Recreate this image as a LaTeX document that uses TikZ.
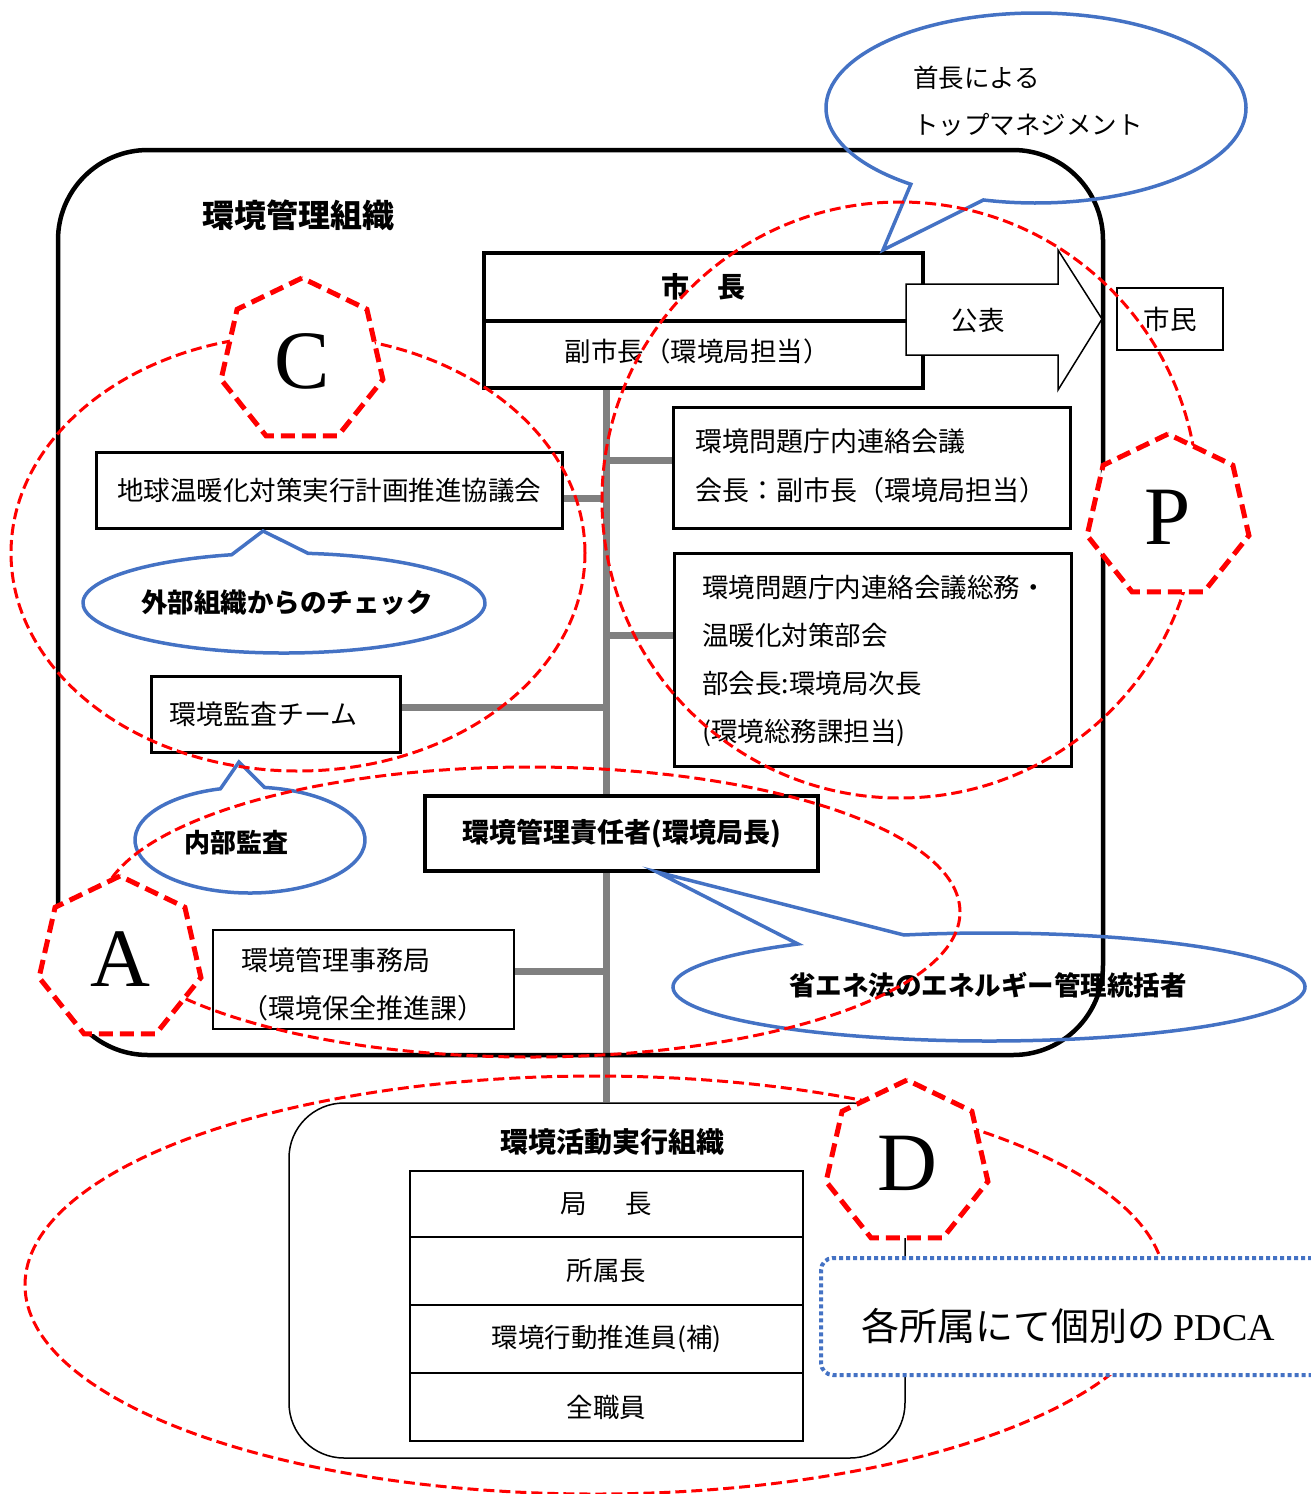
\documentclass[tikz,border=0pt]{standalone}
\usepackage{fontspec}
\setmainfont{Liberation Serif}
\newfontfamily\jp{Noto Sans CJK JP}
\usetikzlibrary{shapes.geometric,calc,backgrounds}
\definecolor{cblue}{HTML}{4472C4}
\definecolor{cred}{HTML}{FF0000}
\definecolor{cgray}{HTML}{808080}
\newcommand\jpsize[1]{\jp\fontsize{#1}{#1}\selectfont}
\begin{document}
\begin{tikzpicture}[x=1pt,y=-1pt,
  obox/.style={draw, fill=white, inner sep=0pt, line width=#1},
  obox/.default=3pt,
  branch/.style={cgray, line width=7pt},
  hepta/.style={regular polygon, regular polygon sides=7, minimum size=166pt, inner sep=0pt,
    draw=cred, fill=white, line width=5pt, dash pattern=on 14pt off 7pt,
    font=\rmfamily\fontsize{83}{83}\selectfont},
  redell/.style={cred, line width=3pt, dash pattern=on 11pt off 5pt},
  bluecall/.style={cblue, line width=3.5pt},
  ]
\useasboundingbox (0,0) rectangle (1311,1494);
\clip (0,0) rectangle (1311,1494);

% outer management organisation frame
\node[draw, line width=4.5pt, rounded corners=90pt, minimum width=1045pt, minimum height=905pt, inner sep=0pt] (kanri) at (580.5,602.5) {};
\node[font={\jpsize{32}\bfseries}] (kanrititle) at (298,215) {環境管理組織};

% mayor boxes
\node[obox=3.5pt, minimum width=439pt, minimum height=68pt, font={\jpsize{28}\bfseries}] (mayor) at (703.5,287) {市　長};
\node[obox=3.5pt, minimum width=439pt, minimum height=67pt] (vice) at (703.5,354.5) {};
\node[font=\jpsize{26.5}] (vicet) at (697,351) {副市長（環境局担当）};

% right boxes
\node[obox=3pt, minimum width=397pt, minimum height=121pt] (kaigi1) at (871.5,467.5) {};
\node[anchor=west, align=left, inner sep=0pt, font={\jp\fontsize{27}{49}\selectfont}] (kaigi1t) at (695,466) {環境問題庁内連絡会議\\会長：副市長（環境局担当）};
\node[obox=3pt, minimum width=397pt, minimum height=213pt] (kaigi2) at (872.5,659.5) {};
\node[anchor=west, align=left, inner sep=0pt, font={\jp\fontsize{26.5}{48}\selectfont}] (kaigi2t) at (702,661) {環境問題庁内連絡会議総務・\\温暖化対策部会\\部会長:環境局次長\\(環境総務課担当)};

% left boxes
\node[obox=3pt, minimum width=466pt, minimum height=76pt, font=\jpsize{26.5}] (chikyu) at (329,490) {地球温暖化対策実行計画推進協議会};
\node[obox=3pt, minimum width=249pt, minimum height=76pt] (kansa) at (275.5,714) {};
\node[anchor=west, inner sep=0pt, font=\jpsize{27}] (kansat) at (169,714) {環境監査チーム};
\node[obox=3.5pt, minimum width=393pt, minimum height=75pt, font={\jpsize{27}\bfseries}] (sekinin) at (621.5,833.5) {環境管理責任者(環境局長)};
\node[obox=2pt, minimum width=301pt, minimum height=99pt] (jimu) at (363.5,979.5) {};
\node[anchor=west, align=left, inner sep=0pt, font={\jp\fontsize{27}{48}\selectfont}] (jimut) at (241,984) {環境管理事務局\\（環境保全推進課）};

% lower organisation
\node[draw, line width=1.5pt, rounded corners=55pt, minimum width=616pt, minimum height=355pt, inner sep=0pt] (katsudo) at (597,1280.5) {};
\node[font={\jpsize{28}\bfseries}] (katsudot) at (612,1142) {環境活動実行組織};
\node[obox=2.5pt, minimum width=393pt, minimum height=66pt, font=\jpsize{26.5}] (s1) at (606.5,1204) {局\hspace{39pt}長};
\node[obox=2.5pt, minimum width=393pt, minimum height=68pt, font=\jpsize{26.5}] (s2) at (606.5,1271) {所属長};
\node[obox=2.5pt, minimum width=393pt, minimum height=68pt, font=\jpsize{26.5}] (s3) at (606.5,1339) {環境行動推進員(補)};
\node[obox=2.5pt, minimum width=393pt, minimum height=68pt, font=\jpsize{26.5}] (s4) at (606.5,1407) {全職員};

% publication arrow and citizens
\draw[fill=white, line width=1.5pt] (906,284) -- (1058,284) -- (1058,250) -- (1102,319) -- (1058,390) -- (1058,355) -- (906,355) -- cycle;
\node[font=\jpsize{26.5}] (koho) at (978,320) {公表};
\node[obox=2pt, minimum width=106pt, minimum height=62pt, font=\jpsize{26.5}] (shimin) at (1170,319) {市民};

% grey trunk and branches
\coordinate (ttop) at (606,388);
\begin{scope}[on background layer]
\draw[branch] (ttop) -- (ttop |- katsudo.north);
\draw[branch] ([yshift=7pt]kaigi1.west) -- ([yshift=7pt]kaigi1.west -| ttop);
\draw[branch] ([yshift=24pt]kaigi2.west) -- ([yshift=24pt]kaigi2.west -| ttop);
\draw[branch] ([yshift=-8pt]chikyu.east) -- ([yshift=-8pt]chikyu.east -| ttop);
\draw[branch] ([yshift=7pt]kansa.east) -- ([yshift=7pt]kansa.east -| ttop);
\draw[branch] ([yshift=8.5pt]jimu.east) -- ([yshift=8.5pt]jimu.east -| ttop);
\end{scope}

% blue callouts
\draw[bluecall] ($(1036,108)+(233.4:210pt and 95pt)$) arc[start angle=233.4, end angle=-104.5, x radius=210pt, y radius=95pt] -- (883,250) -- cycle;
\node[anchor=west, align=left, inner sep=0pt, font={\jp\fontsize{25.5}{47}\selectfont}] (shuchot) at (913,101.5) {首長による\\トップマネジメント};
\draw[bluecall] ($(284,603)+(105.1:201pt and 50pt)$) arc[start angle=105.1, end angle=443.1, x radius=201pt, y radius=50pt] -- (263,531) -- cycle;
\node[font={\jpsize{26.5}\bfseries}] (gaibut) at (287,603) {外部組織からのチェック};
\draw[bluecall] ($(250,840)+(104.9:115pt and 53pt)$) arc[start angle=104.9, end angle=442.7, x radius=115pt, y radius=53pt] -- (239,762) -- cycle;
\node[font={\jpsize{26}\bfseries}] (naibut) at (236,843) {内部監査};
\draw[bluecall] ($(989,987)+(127.2:316pt and 54pt)$) arc[start angle=127.2, end angle=465.6, x radius=316pt, y radius=54pt] -- (657,872) -- cycle;
\node[font={\jpsize{26.5}\bfseries}] (shoenet) at (988,985) {省エネ法のエネルギー管理統括者};

% red PDCA ellipses
\draw[redell] (298,553) ellipse [x radius=287pt, y radius=218pt];
\draw[redell] (900,500) ellipse [x radius=298pt, y radius=298pt];
\draw[redell] (530,912) ellipse [x radius=430pt, y radius=145pt];
\draw[redell] (595,1285) ellipse [x radius=570pt, y radius=209pt];

% heptagons
\node[hepta] (hC) at (302,361) {C};
\node[hepta] (hP) at (1168,517) {P};
\node[hepta] (hA) at (120,959) {A};
\node[hepta] (hD) at (907,1163) {D};

% individual PDCA box
\node[draw=cblue, fill=white, line width=4pt, dash pattern=on 4pt off 3pt, rounded corners=12pt, minimum width=510pt, minimum height=117pt, inner sep=0pt] (pdca) at (1076,1316.5) {};
\node[font=\jpsize{38}] (pdcat) at (1068,1326) {各所属にて個別の {\rmfamily PDCA}};
\end{tikzpicture}
\end{document}
